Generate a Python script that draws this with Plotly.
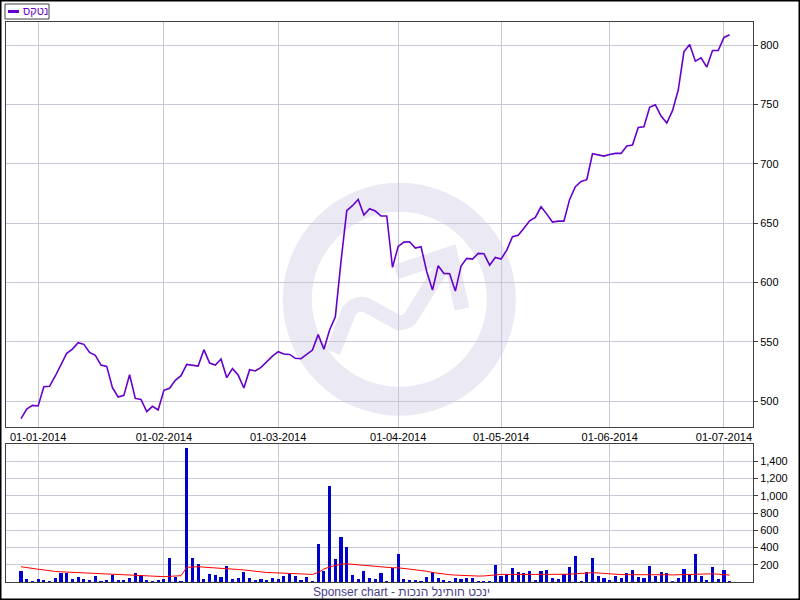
import pandas as pd
import plotly.graph_objects as go

# ---------------- data ----------------
series_name = "נטקס"
footer_text = "Sponser chart - תוכנה לניתוח טכני"

# TASE trading calendar (Sun-Thu) with exchange holidays
holidays = ["2014-03-16", "2014-04-14", "2014-04-15", "2014-04-20", "2014-04-21",
            "2014-05-05", "2014-05-06", "2014-06-03", "2014-06-04"]
dates = [d.strftime("%Y-%m-%d") for d in pd.bdate_range(
    "2013-12-29", "2014-07-02", freq="C", weekmask="Sun Mon Tue Wed Thu", holidays=holidays)]

prices = [
    485.1, 493.3, 496.3, 495.8, 512.1, 512.4, 521.1, 530.9, 540.2, 543.8,
    549.2, 547.8, 541.0, 538.5, 530.3, 529.2, 511.2, 503.4, 504.8, 522.2,
    502.2, 501.4, 491.0, 495.5, 492.4, 509.0, 510.7, 517.4, 521.4, 530.9,
    530.3, 529.5, 543.3, 532.0, 530.3, 535.4, 519.7, 527.3, 521.9, 511.0,
    526.4, 525.3, 528.4, 533.2, 537.9, 541.6, 539.6, 539.3, 536.0, 535.7,
    539.3, 543.0, 556.0, 543.6, 559.9, 571.1, 618.0, 660.5, 664.7, 670.0,
    656.8, 662.1, 660.2, 656.0, 656.0, 612.7, 630.4, 634.0, 634.3, 629.0,
    630.1, 609.0, 593.6, 614.1, 607.6, 607.3, 592.7, 613.8, 620.3, 619.7,
    624.5, 624.2, 614.6, 621.1, 619.7, 627.3, 638.5, 639.7, 645.6, 652.0,
    654.8, 663.8, 657.6, 650.9, 651.7, 651.7, 670.0, 680.7, 685.2, 686.6,
    708.5, 707.4, 706.5, 707.9, 708.8, 708.8, 715.0, 715.8, 730.7, 731.3,
    747.6, 749.8, 740.3, 734.4, 744.8, 762.2, 794.5, 800.7, 786.6, 789.4,
    781.6, 795.6, 795.6, 806.6, 808.8,
]

volumes = [
    133, 30, 4, 30, 20, 4, 42, 99, 99, 30,
    53, 30, 20, 65, 4, 18, 76, 18, 18, 42,
    99, 76, 18, 4, 18, 30, 284, 53, 4, 1556,
    273, 203, 30, 88, 76, 53, 180, 30, 42, 111,
    42, 18, 30, 18, 42, 30, 65, 88, 65, 18,
    53, 4, 446, 122, 1117, 261, 527, 411, 76, 30,
    122, 42, 30, 99, 4, 157, 319, 30, 18, 18,
    4, 53, 111, 42, 18, 4, 42, 30, 42, 42,
    4, 4, 4, 192, 65, 88, 157, 111, 99, 122,
    18, 122, 134, 42, 30, 88, 169, 296, 4, 111,
    284, 65, 42, 18, 65, 42, 99, 134, 53, 42,
    180, 65, 111, 99, 4, 42, 146, 76, 319, 65,
    18, 169, 30, 134, 4,
]

volume_avg = [
    177, 165, 154, 148, 140, 128, 122, 118, 115, 112,
    108, 102, 100, 97, 94, 90, 87, 83, 80, 79,
    77, 76, 70, 65, 61, 62, 66, 70, 73, 170,
    177, 177, 172, 166, 160, 156, 154, 150, 145, 140,
    132, 120, 115, 110, 108, 105, 100, 98, 95, 92,
    90, 88, 110, 150, 175, 195, 207, 211, 205, 198,
    192, 185, 178, 172, 168, 165, 165, 158, 150, 142,
    135, 125, 110, 100, 92, 85, 80, 76, 72, 70,
    69, 70, 78, 88, 88, 88, 90, 92, 90, 88,
    88, 87, 88, 86, 86, 88, 90, 96, 102, 105,
    108, 104, 98, 92, 88, 86, 85, 86, 84, 83,
    86, 88, 86, 84, 82, 84, 88, 90, 95, 96,
    96, 95, 90, 86, 80,
]

tick_labels = ["01-01-2014", "01-02-2014", "01-03-2014", "01-04-2014",
               "01-05-2014", "01-06-2014", "01-07-2014"]
# first trading day of each labelled month
tick_dates = []
for lab in tick_labels:
    ym = lab[6:10] + "-" + lab[3:5]
    tick_dates.append(next(d for d in dates if d.startswith(ym)))

price_ticks = [500, 550, 600, 650, 700, 750, 800]
volume_ticks = [200, 400, 600, 800, 1000, 1200, 1400]

# ---------------- styling / geometry ----------------
W, H = 800, 600
ML, MR, MT, MB = 6, 47, 22, 18
PW, PH = W - ML - MR, H - MT - MB


def px(xp, yp):
    return (xp - ML) / PW, (H - MB - yp) / PH


grid = "#c8c8d8"
frame = "#404040"
font = dict(family="Liberation Sans, Arial, sans-serif", size=11, color="#000000")
wm = "#ebe9f4"

fig = go.Figure()
fig.add_trace(go.Scatter(x=dates, y=prices, mode="lines", name=series_name,
                         line=dict(color="#6600cc", width=1.6), xaxis="x", yaxis="y",
                         showlegend=False))
fig.add_trace(go.Bar(x=dates, y=volumes, marker=dict(color="#0000cc", line_width=0),
                     width=0.55, xaxis="x2", yaxis="y2", showlegend=False))
fig.add_trace(go.Scatter(x=dates, y=volume_avg, mode="lines", line=dict(color="#ff0000", width=1),
                         xaxis="x2", yaxis="y2", showlegend=False))

xr = [(ML - 21) / 5.715, (W - MR - 21) / 5.715]
pr_bottom = (H - MB - 427) / PH
vol_top = (H - MB - 444) / PH

common_x = dict(type="category", range=xr, tickvals=tick_dates, showgrid=True, gridcolor=grid,
                gridwidth=1, showline=True, linecolor=frame, linewidth=1, mirror=True,
                ticks="", zeroline=False, tickfont=font)

fig.update_layout(
    width=W, height=H, margin=dict(l=ML, r=MR, t=MT, b=MB, pad=0),
    paper_bgcolor="white", plot_bgcolor="white", bargap=0,
    font=font,
    xaxis=dict(common_x, anchor="y", ticktext=tick_labels, showticklabels=True),
    xaxis2=dict(common_x, anchor="y2", matches="x", showticklabels=False),
    yaxis=dict(domain=[pr_bottom, 1], side="right", range=[478.1, 819.6], tickvals=price_ticks,
               showgrid=True, gridcolor=grid, showline=True, linecolor=frame, linewidth=1,
               mirror=True, ticks="outside", ticklen=4, tickcolor=frame, zeroline=False,
               tickfont=font),
    yaxis2=dict(domain=[0, vol_top], side="right", range=[0, 1600], tickvals=volume_ticks,
                tickformat=",d", showgrid=True, gridcolor=grid, showline=True, linecolor=frame,
                linewidth=1, mirror=True, ticks="outside", ticklen=4, tickcolor=frame,
                zeroline=False, tickfont=font),
)

shapes = []
# watermark ring
cx, cy, r = 399.3, 299.3, 102
x0, y1 = px(cx - r, cy - r)
x1, y0 = px(cx + r, cy + r)
shapes.append(dict(type="circle", xref="paper", yref="paper", x0=x0, y0=y0, x1=x1, y1=y1,
                   line=dict(color=wm, width=29), layer="below"))


def path(pts, cmds):
    out = ""
    for c, p in zip(cmds, pts):
        xx, yy = px(*p)
        out += f"{c}{xx:.5f},{yy:.5f} "
    return out.strip()


wave = path([(333, 352), (349, 311), (356, 302), (366, 305), (399, 323), (409, 322), (411, 317), (449, 256)],
            ["M", "L", "Q", "", "L", "Q", "", "L"])
shapes.append(dict(type="path", xref="paper", yref="paper", path=wave,
                   line=dict(color=wm, width=15), layer="below"))
arrow = path([(396, 272), (450, 254), (462, 309)], ["M", "L", "L"])
shapes.append(dict(type="path", xref="paper", yref="paper", path=arrow,
                   line=dict(color=wm, width=15), layer="below"))

# legend box
lx0, ly0 = px(5, 4)
lx1, ly1 = px(49, 19)
shapes.append(dict(type="rect", xref="paper", yref="paper", x0=lx0, y0=ly1, x1=lx1, y1=ly0,
                   line=dict(color=frame, width=1), fillcolor="white", layer="above"))
sx0, sy = px(8, 11.5)
sx1, _ = px(19, 11.5)
shapes.append(dict(type="line", xref="paper", yref="paper", x0=sx0, y0=sy, x1=sx1, y1=sy,
                   line=dict(color="#6600cc", width=3), layer="above"))
# outer border
bx0, by1 = px(0.5, 0.5)
bx1, by0 = px(W - 0.5, H - 0.5)
shapes.append(dict(type="rect", xref="paper", yref="paper", x0=bx0, y0=by0, x1=bx1, y1=by1,
                   line=dict(color="#000000", width=2), layer="above"))
fig.update_layout(shapes=shapes)

# The original chart lays the footer out strictly left-to-right (no bidi reordering);
# a LEFT-TO-RIGHT OVERRIDE keeps that glyph order while the text stays in logical order.
footer_display = "\u202d" + footer_text + "\u202c"

tx, ty = px(21, 11.5)
fx, fy = px(401, 592)
fig.update_layout(annotations=[
    dict(text=series_name, xref="paper", yref="paper", x=tx, y=ty, xanchor="left", yanchor="middle",
         showarrow=False, font=dict(family="Liberation Sans, Arial, sans-serif", size=11, color="#6600cc")),
    dict(text=footer_display, xref="paper", yref="paper", x=fx, y=fy,
         xanchor="center", yanchor="middle", showarrow=False,
         font=dict(family="Liberation Sans, Arial, sans-serif", size=12, color="#483d8b")),
])

fig.write_html("out.html", config={"displayModeBar": False},
               post_script="document.body.style.margin='0';document.body.style.overflow='hidden';")
